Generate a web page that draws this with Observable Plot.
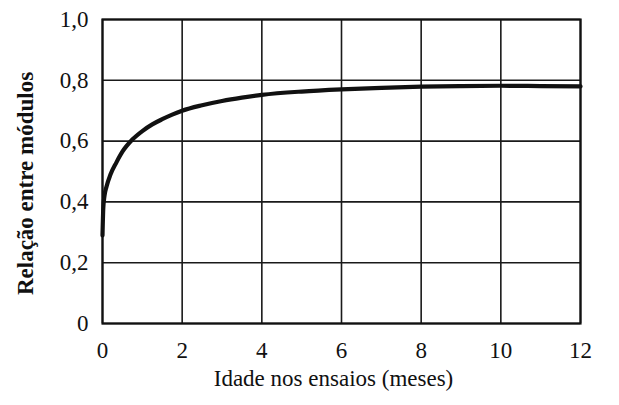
<!DOCTYPE html>
<html>
<head>
<meta charset="utf-8">
<script src="https://cdn.jsdelivr.net/npm/d3@7"></script>
<script src="https://cdn.jsdelivr.net/npm/@observablehq/plot@0.6"></script>
<style>
  html, body { margin: 0; padding: 0; background: #fff; }
  svg { display: block; }
  svg text, svg g { font-family: "Times New Roman", Times, "Liberation Serif", Tinos, "DejaVu Serif", serif !important; }
</style>
</head>
<body>
<div id="chart"></div>
<script>
const idade = [0, 0.02, 0.05, 0.1, 0.2, 0.35, 0.5, 0.75, 1.0, 1.25, 1.5, 1.75, 2, 2.5, 3, 3.5, 4, 5, 6, 7, 8, 9, 10, 11, 12];
const relacao = [0.29, 0.38, 0.42, 0.45, 0.49, 0.53, 0.565, 0.605, 0.633, 0.655, 0.672, 0.687, 0.70, 0.718, 0.732, 0.743, 0.752, 0.763, 0.77, 0.775, 0.779, 0.781, 0.782, 0.781, 0.78];
const xTicks = [0, 2, 4, 6, 8, 10, 12];
const yTicks = [0, 0.2, 0.4, 0.6, 0.8, 1.0];
const xLabel = "Idade nos ensaios (meses)";
const yLabel = "Relação entre módulos";

const data = idade.map((x, i) => ({x, y: relacao[i]}));
const fmtY = d => d === 0 ? "0" : d.toFixed(1).replace(".", ",");
const font = "Times New Roman, Times, Liberation Serif, Tinos, DejaVu Serif, serif";

const chart = Plot.plot({
  width: 619,
  height: 405,
  marginLeft: 102,
  marginRight: 39,
  marginTop: 19,
  marginBottom: 82,
  style: {fontFamily: font, fontSize: "23px", color: "#111", background: "#fff"},
  x: {domain: [0, 12], ticks: xTicks},
  y: {domain: [0, 1], ticks: yTicks},
  marks: [
    Plot.gridX(xTicks, {stroke: "#1a1a1a", strokeOpacity: 1, strokeWidth: 1.6}),
    Plot.gridY(yTicks, {stroke: "#1a1a1a", strokeOpacity: 1, strokeWidth: 1.6}),
    Plot.frame({stroke: "#111", strokeWidth: 2.2}),
    Plot.axisX(xTicks, {tickSize: 0, tickPadding: 18, tickFormat: d => String(d), label: null, fontSize: 23, fill: "#111", fontFamily: font}),
    Plot.axisY(yTicks, {tickSize: 0, tickPadding: 14, tickFormat: fmtY, label: null, fontSize: 23, fill: "#111", fontFamily: font}),
    Plot.line(data, {x: "x", y: "y", stroke: "#111", strokeWidth: 4.2, curve: "monotone-x"}),
    Plot.text([xLabel], {frameAnchor: "bottom", dx: -8, dy: 62, fontSize: 23, fill: "#111", fontFamily: font}),
    Plot.text([yLabel], {frameAnchor: "left", textAnchor: "middle", dx: -77, dy: 12, rotate: -90, fontSize: 23, fontWeight: "bold", fill: "#111", fontFamily: font})
  ]
});
document.getElementById("chart").appendChild(chart);
</script>
</body>
</html>
